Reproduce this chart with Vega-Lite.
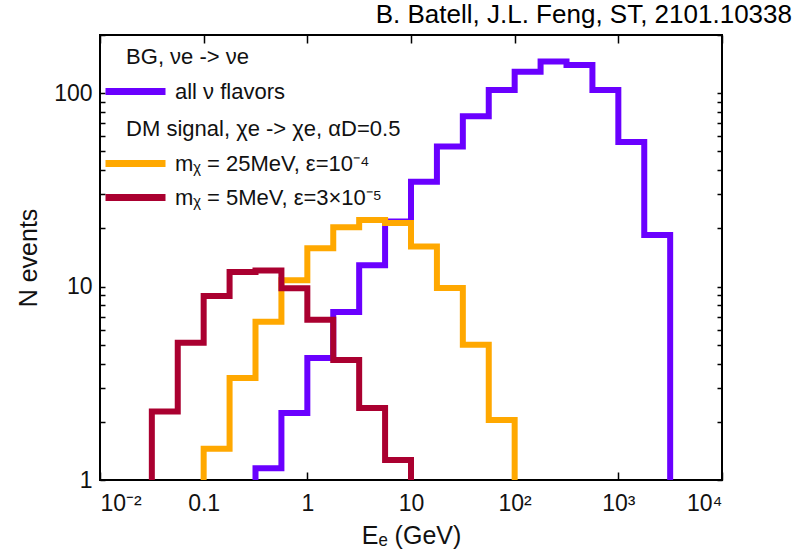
{
  "$schema": "https://vega.github.io/schema/vega-lite/v6.json",
  "width": 622,
  "height": 445,
  "autosize": {"type": "none"},
  "padding": {"left": 100, "top": 35, "right": 82, "bottom": 74},
  "title": {
    "text": "B. Batell, J.L. Feng, ST, 2101.10338",
    "anchor": "end",
    "frame": "group",
    "dx": 70,
    "offset": 6,
    "fontSize": 26,
    "fontWeight": "normal",
    "font": "Liberation Sans",
    "color": "#000"
  },
  "config": {
    "view": {"stroke": "#000", "strokeWidth": 2},
    "font": "Liberation Sans",
    "axis": {
      "domain": false,
      "grid": false,
      "tickColor": "#000",
      "tickWidth": 1.5,
      "labelFont": "Liberation Sans",
      "labelFontSize": 23,
      "labelColor": "#111",
      "titleFont": "Liberation Sans",
      "titleFontSize": 25,
      "titleFontWeight": "normal",
      "titleColor": "#111"
    },
    "legend": {
      "titleFont": "Liberation Sans",
      "titleFontSize": 22,
      "titleFontWeight": "normal",
      "titleColor": "#111",
      "labelFont": "Liberation Sans",
      "labelFontSize": 22,
      "labelColor": "#111",
      "symbolType": "M-2.5,0H2.5",
      "symbolSize": 576,
      "symbolStrokeWidth": 7,
      "labelOffset": 24,
      "titlePadding": 7,
      "rowPadding": 4,
      "padding": 0,
      "titleLimit": 500,
      "labelLimit": 500
    }
  },
  "datasets": {
    "hist": [
      {"series": "all ν flavors", "E": 0.316228, "N": 1},
      {"series": "all ν flavors", "E": 0.316228, "N": 1.15},
      {"series": "all ν flavors", "E": 0.562341, "N": 2.22},
      {"series": "all ν flavors", "E": 1, "N": 4.28},
      {"series": "all ν flavors", "E": 1.778279, "N": 7.4},
      {"series": "all ν flavors", "E": 3.162278, "N": 12.9},
      {"series": "all ν flavors", "E": 5.623413, "N": 21.7},
      {"series": "all ν flavors", "E": 10, "N": 34.9},
      {"series": "all ν flavors", "E": 17.78279, "N": 53},
      {"series": "all ν flavors", "E": 31.62278, "N": 76},
      {"series": "all ν flavors", "E": 56.23413, "N": 104},
      {"series": "all ν flavors", "E": 100, "N": 129},
      {"series": "all ν flavors", "E": 177.8279, "N": 146},
      {"series": "all ν flavors", "E": 316.2278, "N": 140},
      {"series": "all ν flavors", "E": 562.3413, "N": 104},
      {"series": "all ν flavors", "E": 1000, "N": 56},
      {"series": "all ν flavors", "E": 1778.279, "N": 18.5},
      {"series": "all ν flavors", "E": 3162.278, "N": 18.5},
      {"series": "all ν flavors", "E": 3162.278, "N": 1},

      {"series": "mᵪ = 25MeV, ε=10⁻⁴", "E": 0.1, "N": 1},
      {"series": "mᵪ = 25MeV, ε=10⁻⁴", "E": 0.1, "N": 1.45},
      {"series": "mᵪ = 25MeV, ε=10⁻⁴", "E": 0.177828, "N": 3.37},
      {"series": "mᵪ = 25MeV, ε=10⁻⁴", "E": 0.316228, "N": 6.59},
      {"series": "mᵪ = 25MeV, ε=10⁻⁴", "E": 0.562341, "N": 10.8},
      {"series": "mᵪ = 25MeV, ε=10⁻⁴", "E": 1, "N": 15.8},
      {"series": "mᵪ = 25MeV, ε=10⁻⁴", "E": 1.778279, "N": 20.3},
      {"series": "mᵪ = 25MeV, ε=10⁻⁴", "E": 3.162278, "N": 22.1},
      {"series": "mᵪ = 25MeV, ε=10⁻⁴", "E": 5.623413, "N": 21.3},
      {"series": "mᵪ = 25MeV, ε=10⁻⁴", "E": 10, "N": 16.1},
      {"series": "mᵪ = 25MeV, ε=10⁻⁴", "E": 17.78279, "N": 9.85},
      {"series": "mᵪ = 25MeV, ε=10⁻⁴", "E": 31.62278, "N": 5.0},
      {"series": "mᵪ = 25MeV, ε=10⁻⁴", "E": 56.23413, "N": 2.04},
      {"series": "mᵪ = 25MeV, ε=10⁻⁴", "E": 100, "N": 2.04},
      {"series": "mᵪ = 25MeV, ε=10⁻⁴", "E": 100, "N": 1},

      {"series": "mᵪ = 5MeV, ε=3×10⁻⁵", "E": 0.031623, "N": 1},
      {"series": "mᵪ = 5MeV, ε=3×10⁻⁵", "E": 0.031623, "N": 2.26},
      {"series": "mᵪ = 5MeV, ε=3×10⁻⁵", "E": 0.056234, "N": 5.13},
      {"series": "mᵪ = 5MeV, ε=3×10⁻⁵", "E": 0.1, "N": 8.95},
      {"series": "mᵪ = 5MeV, ε=3×10⁻⁵", "E": 0.177828, "N": 11.9},
      {"series": "mᵪ = 5MeV, ε=3×10⁻⁵", "E": 0.316228, "N": 12.1},
      {"series": "mᵪ = 5MeV, ε=3×10⁻⁵", "E": 0.562341, "N": 9.8},
      {"series": "mᵪ = 5MeV, ε=3×10⁻⁵", "E": 1, "N": 6.73},
      {"series": "mᵪ = 5MeV, ε=3×10⁻⁵", "E": 1.778279, "N": 4.17},
      {"series": "mᵪ = 5MeV, ε=3×10⁻⁵", "E": 3.162278, "N": 2.36},
      {"series": "mᵪ = 5MeV, ε=3×10⁻⁵", "E": 5.623413, "N": 1.27},
      {"series": "mᵪ = 5MeV, ε=3×10⁻⁵", "E": 10, "N": 1.27},
      {"series": "mᵪ = 5MeV, ε=3×10⁻⁵", "E": 10, "N": 1}
    ]
  },
  "data": {"name": "hist"},
  "layer": [
    {
      "transform": [{"filter": "datum.series === 'all ν flavors'"}],
      "mark": {"type": "line", "interpolate": "step-after", "strokeWidth": 6, "strokeJoin": "miter", "strokeCap": "butt", "clip": true},
      "encoding": {
        "x": {
          "field": "E", "type": "quantitative",
          "scale": {"type": "log", "domain": [0.01, 10000], "nice": false},
          "axis": {
            "orient": "bottom",
            "values": [0.01, 0.1, 1, 10, 100, 1000, 10000],
            "labelExpr": "datum.value < 0.05 ? '10⁻²' : datum.value < 0.5 ? '0.1' : datum.value < 5 ? '1' : datum.value < 50 ? '10' : datum.value < 500 ? '10²' : datum.value < 5000 ? '10³' : '10⁴'",
            "offset": -8,
            "tickSize": 8,
            "labelPadding": 12,
            "title": "Eₑ  (GeV)",
            "titlePadding": 8
          }
        },
        "y": {
          "field": "N", "type": "quantitative",
          "scale": {"type": "log", "domain": [1, 200], "nice": false},
          "axis": {
            "orient": "left",
            "values": [1, 2, 3, 4, 5, 6, 7, 8, 9, 10, 20, 30, 40, 50, 60, 70, 80, 90, 100, 200],
            "labelExpr": "datum.value == 1 || datum.value == 10 || datum.value == 100 ? datum.label : ''",
            "offset": -5,
            "tickSize": 5,
            "labelPadding": 8,
            "title": "N events",
            "titlePadding": 12
          }
        },
        "color": {
          "field": "series", "type": "nominal",
          "scale": {"domain": ["all ν flavors"], "range": ["#6a00ff"]},
          "legend": {
            "title": "\u200b\u00a0BG, νe -> νe",
            "orient": "none",
            "legendX": 20,
            "legendY": 12
          }
        },
        "order": {"value": null}
      }
    },
    {
      "transform": [{"filter": "datum.series !== 'all ν flavors'"}],
      "mark": {"type": "line", "interpolate": "step-after", "strokeWidth": 6, "strokeJoin": "miter", "strokeCap": "butt", "clip": true},
      "encoding": {
        "x": {"field": "E", "type": "quantitative", "axis": null},
        "y": {"field": "N", "type": "quantitative", "axis": null},
        "color": {
          "field": "series", "type": "nominal",
          "scale": {"domain": ["mᵪ = 25MeV, ε=10⁻⁴", "mᵪ = 5MeV, ε=3×10⁻⁵"], "range": ["#ffa800", "#aa0030"]},
          "legend": {
            "title": "\u200b\u00a0DM signal, χe -> χe, αD=0.5",
            "orient": "none",
            "legendX": 20,
            "legendY": 84
          }
        },
        "order": {"value": null}
      }
    },
    {
      "transform": [{"filter": "datum.series === 'all ν flavors'"}],
      "mark": {"type": "line", "opacity": 0},
      "encoding": {
        "x": {
          "field": "E", "type": "quantitative",
          "axis": {"orient": "top", "values": [0.01, 0.1, 1, 10, 100, 1000, 10000], "labels": false, "offset": -8, "tickSize": 8, "title": null}
        },
        "y": {
          "field": "N", "type": "quantitative",
          "axis": {"orient": "right", "values": [1, 2, 3, 4, 5, 6, 7, 8, 9, 10, 20, 30, 40, 50, 60, 70, 80, 90, 100, 200], "labels": false, "offset": -5, "tickSize": 5, "title": null}
        }
      }
    }
  ],
  "resolve": {
    "scale": {"color": "independent"},
    "axis": {"x": "independent", "y": "independent"}
  }
}
